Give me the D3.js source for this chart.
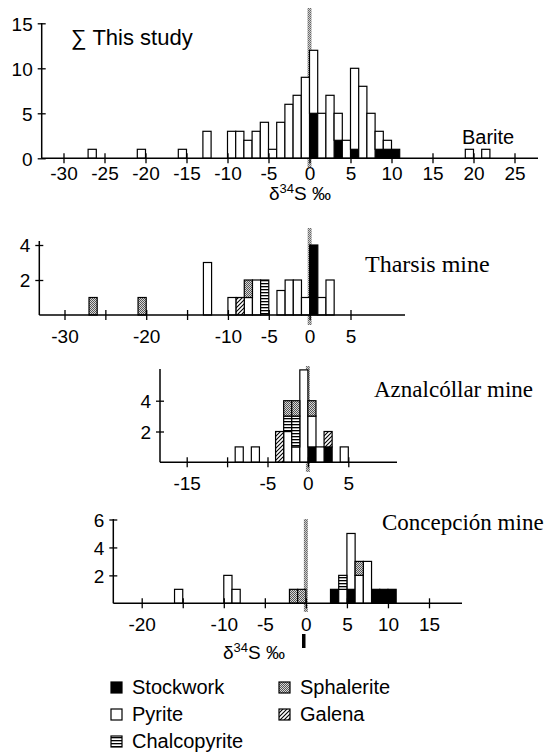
<!DOCTYPE html>
<html>
<head>
<meta charset="utf-8">
<script src="https://cdn.jsdelivr.net/npm/d3@7"></script>
<style>
  body { margin: 0; background: #fff; }
  svg text { font-family: "Liberation Sans", Arial, Helvetica, sans-serif; fill: #000; }
  svg text.serif { font-family: "Liberation Serif", "Times New Roman", serif; }
</style>
</head>
<body>
<div id="chart"></div>
<script>
// stacking order inside a bar, bottom to top
var minerals = ["Stockwork", "Pyrite", "Galena", "Chalcopyrite", "Sphalerite"];

// Σ This study : bin left edges (‰) and counts
var studyBins      = [-27,-21,-16,-13,-10,-9,-8,-7,-6,-5,-4,-3,-2,-1,0,1,2,3,4,5,6,7,8,9,10,19,21];
var studyStockwork = [  0,  0,  0,  0,  0, 0, 0, 0, 0, 0, 0, 0, 0, 0,5,0,0,2,0,1,0,0,1,1,1, 0, 0];
var studyPyrite    = [  1,  1,  1,  3,  3, 3, 2, 3, 4, 1, 4, 6, 7, 9,7,5,7,3,2,9,8,5,2,1,0, 1, 1];

// Tharsis mine
var tharBins      = [-27,-21,-13,-10,-9,-8,-7,-6, -4,-3,-2,-1,0,1,2];
var tharStockwork = [  0,  0,  0,  0, 0, 0, 0, 0,  0, 0, 0, 0,4,0,0];
var tharPyrite    = [  0,  0,  3,  1, 0, 1, 2, 0,1.4, 2, 2, 1,0,1,2];
var tharGalena    = [  0,  0,  0,  0, 1, 0, 0, 0,  0, 0, 0, 0,0,0,0];
var tharChalco    = [  0,  0,  0,  0, 0, 0, 0, 2,  0, 0, 0, 0,0,0,0];
var tharSphal     = [  1,  1,  0,  0, 0, 1, 0, 0,  0, 0, 0, 0,0,0,0];

// Aznalcóllar mine
var aznBins      = [-9,-7,-4,-3,-2,-1,0,1,2,4];
var aznStockwork = [ 0, 0, 0, 0, 0, 0,1,0,1,0];
var aznPyrite    = [ 1, 1, 0, 2, 1, 6,2,1,0,1];
var aznGalena    = [ 0, 0, 2, 0, 0, 0,0,0,1,0];
var aznChalco    = [ 0, 0, 0, 1, 2, 0,0,0,0,0];
var aznSphal     = [ 0, 0, 0, 1, 1, 0,1,0,0,0];

// Concepción mine
var conBins      = [-16,-10,-9,-2,-1,3,4,5,6,7,8,9,10];
var conStockwork = [  0,  0, 0, 0, 0,1,0,1,0,0,1,1,1];
var conPyrite    = [  1,  2, 1, 0, 0,0,1,4,2,3,0,0,0];
var conChalco    = [  0,  0, 0, 0, 0,0,1,0,0,0,0,0,0];
var conSphal     = [  0,  0, 0, 1, 1,0,0,0,1,0,0,0,0];

var legendNames = ["Stockwork", "Pyrite", "Chalcopyrite", "Sphalerite", "Galena"];

function rows(bins, cols) {
  return bins.map(function(b, i) {
    var r = {bin: b};
    minerals.forEach(function(m) { r[m] = cols[m] ? cols[m][i] : 0; });
    return r;
  });
}

var width = 550, height = 752;
var svg = d3.select("#chart").append("svg")
    .attr("width", width).attr("height", height);

// fills
var defs = svg.append("defs");
var dots = defs.append("pattern").attr("id", "dots").attr("patternUnits", "userSpaceOnUse")
    .attr("width", 2).attr("height", 2);
dots.append("rect").attr("width", 2).attr("height", 2).attr("fill", "#d8d8d8");
dots.append("rect").attr("width", 1).attr("height", 1).attr("fill", "#555");
dots.append("rect").attr("x", 1).attr("y", 1).attr("width", 1).attr("height", 1).attr("fill", "#555");

var zdots = defs.append("pattern").attr("id", "zdots").attr("patternUnits", "userSpaceOnUse")
    .attr("width", 2).attr("height", 2);
zdots.append("rect").attr("width", 2).attr("height", 2).attr("fill", "#ccc");
zdots.append("rect").attr("width", 1).attr("height", 1).attr("fill", "#666");
zdots.append("rect").attr("x", 1).attr("y", 1).attr("width", 1).attr("height", 1).attr("fill", "#777");

var hatch = defs.append("pattern").attr("id", "diag").attr("patternUnits", "userSpaceOnUse")
    .attr("width", 4).attr("height", 4);
hatch.append("rect").attr("width", 4).attr("height", 4).attr("fill", "#fff");
hatch.append("path").attr("d", "M-1,1 l2,-2 M0,4 l4,-4 M3,5 l2,-2")
    .attr("stroke", "#000").attr("stroke-width", 1.1);

var horiz = defs.append("pattern").attr("id", "horiz").attr("patternUnits", "userSpaceOnUse")
    .attr("width", 4).attr("height", 3);
horiz.append("rect").attr("width", 4).attr("height", 3).attr("fill", "#fff");
horiz.append("rect").attr("y", 1).attr("width", 4).attr("height", 1.3).attr("fill", "#000");

var fills = {
  Stockwork: "#000",
  Pyrite: "#fff",
  Galena: "url(#diag)",
  Chalcopyrite: "url(#horiz)",
  Sphalerite: "url(#dots)"
};

var panels = [
  { rows: rows(studyBins, {Stockwork: studyStockwork, Pyrite: studyPyrite}),
    xDomain: [-30, 25], xRange: [63.5, 514.5], yDomain: [0, 15], yRange: [158.3, 23.3],
    xTicks: d3.range(-30, 26, 5), xLabels: d3.range(-30, 26, 5),
    yTicks: [0, 5, 10, 15], yAxisX: 41.7, yAxisTop: 23, xAxisEnd: 538,
    zero: [8, 167], labelDy: 22 },
  { rows: rows(tharBins, {Stockwork: tharStockwork, Pyrite: tharPyrite, Galena: tharGalena,
                          Chalcopyrite: tharChalco, Sphalerite: tharSphal}),
    xDomain: [-30, 5], xRange: [64.5, 350.5], yDomain: [0, 4], yRange: [315, 245],
    xTicks: d3.range(-30, 6, 5), xLabels: [-30, -20, -10, -5, 0, 5],
    yTicks: [2, 4], yAxisX: 39.3, yAxisTop: 241, xAxisEnd: 405,
    zero: [228, 325], labelDy: 28 },
  { rows: rows(aznBins, {Stockwork: aznStockwork, Pyrite: aznPyrite, Galena: aznGalena,
                         Chalcopyrite: aznChalco, Sphalerite: aznSphal}),
    xDomain: [-15, 5], xRange: [186.7, 348.3], yDomain: [0, 4], yRange: [462.3, 400.7],
    xTicks: d3.range(-15, 6, 5), xLabels: [-15, -5, 0, 5],
    yTicks: [2, 4], yAxisX: 160, yAxisTop: 369, xAxisEnd: 397,
    zero: [366, 472], labelDy: 28 },
  { rows: rows(conBins, {Stockwork: conStockwork, Pyrite: conPyrite,
                         Chalcopyrite: conChalco, Sphalerite: conSphal}),
    xDomain: [-20, 15], xRange: [141.7, 429], yDomain: [0, 6], yRange: [603.3, 519.5],
    xTicks: d3.range(-20, 16, 5), xLabels: [-20, -10, -5, 0, 5, 10, 15],
    yTicks: [2, 4, 6], yAxisX: 113.3, yAxisTop: 519, xAxisEnd: 462,
    zero: [519, 612], labelDy: 28 }
];

panels.forEach(function(p) {
  var x = d3.scaleLinear().domain(p.xDomain).range(p.xRange);
  var y = d3.scaleLinear().domain(p.yDomain).range(p.yRange);
  var g = svg.append("g");

  // zero reference line
  g.append("rect")
      .attr("x", x(0) - 2).attr("width", 4)
      .attr("y", p.zero[0]).attr("height", p.zero[1] - p.zero[0])
      .attr("fill", "url(#zdots)");

  // stacked bars
  var series = d3.stack().keys(minerals)(p.rows);
  series.forEach(function(s) {
    g.selectAll(null)
      .data(s.filter(function(d) { return d[1] - d[0] > 0; }))
      .enter().append("rect")
        .attr("x", function(d) { return x(d.data.bin); })
        .attr("width", function(d) { return x(d.data.bin + 1) - x(d.data.bin); })
        .attr("y", function(d) { return y(d[1]); })
        .attr("height", function(d) { return y(d[0]) - y(d[1]); })
        .attr("fill", fills[s.key])
        .attr("stroke", "#000")
        .attr("stroke-width", 1.2);
  });

  // axis lines
  g.append("line")
      .attr("x1", p.yAxisX).attr("x2", p.xAxisEnd)
      .attr("y1", y(0)).attr("y2", y(0))
      .attr("stroke", "#000").attr("stroke-width", 1.5);
  g.append("line")
      .attr("x1", p.yAxisX).attr("x2", p.yAxisX)
      .attr("y1", p.yAxisTop).attr("y2", y(0))
      .attr("stroke", "#000").attr("stroke-width", 1.5);

  var xa = g.append("g")
      .attr("transform", "translate(0," + y(0) + ")")
      .call(d3.axisBottom(x).tickValues(p.xTicks).tickSize(5)
        .tickFormat(function(d) { return p.xLabels.indexOf(d) >= 0 ? String(d) : ""; }));
  xa.select(".domain").remove();
  xa.selectAll(".tick line").attr("y1", -5).attr("y2", 5).attr("stroke-width", 1.3);
  xa.selectAll(".tick text").attr("y", p.labelDy).attr("dy", 0).style("font-size", "19px");

  var ya = g.append("g")
      .attr("transform", "translate(" + p.yAxisX + ",0)")
      .call(d3.axisLeft(y).tickValues(p.yTicks).tickSize(4)
        .tickFormat(function(d) { return String(d); }));
  ya.select(".domain").remove();
  ya.selectAll(".tick line").attr("x1", -4).attr("x2", 4).attr("stroke-width", 1.3);
  ya.selectAll(".tick text").attr("x", -9).attr("dy", "0.36em").style("font-size", "19px");
});

// panel texts
svg.append("text").attr("x", 71).attr("y", 45).style("font-size", "22px").text("\u2211 This study");
svg.append("text").attr("x", 462).attr("y", 144).style("font-size", "20px").text("Barite");
svg.append("text").attr("class", "serif").attr("x", 365).attr("y", 272).style("font-size", "24px").text("Tharsis mine");
svg.append("text").attr("class", "serif").attr("x", 374).attr("y", 397).style("font-size", "23px").text("Aznalcóllar mine");
svg.append("text").attr("class", "serif").attr("x", 382).attr("y", 530).style("font-size", "23px").text("Concepción mine");

function deltaLabel(cx, by) {
  var t = svg.append("text").attr("x", cx).attr("y", by)
      .attr("text-anchor", "middle").style("font-size", "19px");
  t.append("tspan").text("\u03b4");
  t.append("tspan").attr("dy", -7).style("font-size", "13px").text("34");
  t.append("tspan").attr("dy", 7).text("S \u2030");
}
deltaLabel(300, 200);
deltaLabel(254, 659);

// small marker under zero of the last panel
svg.append("rect").attr("x", 302).attr("y", 634).attr("width", 3.5).attr("height", 14).attr("fill", "#000");

// legend
var legCol = [111, 279], legRow = [682, 709, 736];
var legPos = {Stockwork: [0, 0], Pyrite: [0, 1], Chalcopyrite: [0, 2], Sphalerite: [1, 0], Galena: [1, 1]};
var leg = svg.append("g").selectAll("g").data(legendNames).enter().append("g")
    .attr("transform", function(d) {
      return "translate(" + legCol[legPos[d][0]] + "," + legRow[legPos[d][1]] + ")";
    });
leg.append("rect").attr("width", 11).attr("height", 11)
    .attr("fill", function(d) { return fills[d]; })
    .attr("stroke", "#000").attr("stroke-width", 1.2);
leg.append("text").attr("x", 21).attr("y", 12).style("font-size", "20px")
    .text(function(d) { return d; });
</script>
</body>
</html>
